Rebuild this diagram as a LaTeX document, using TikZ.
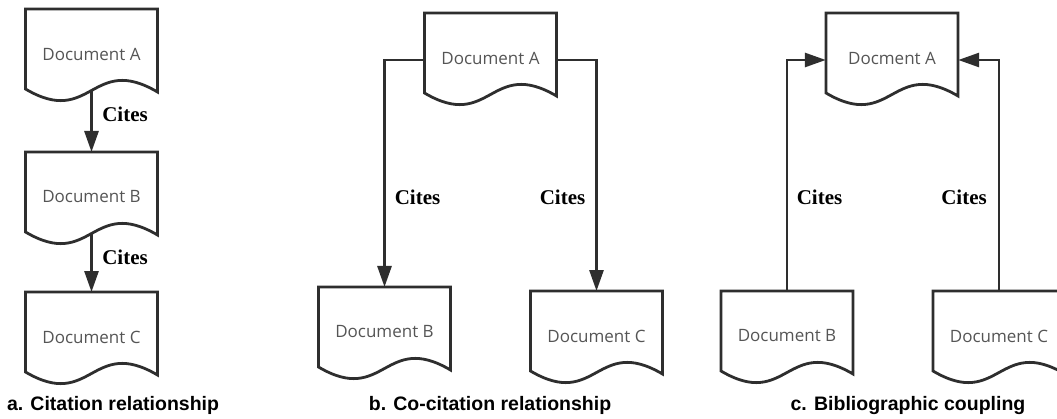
\documentclass[tikz,border=0pt]{standalone}
\usepackage{fontspec}
\usetikzlibrary{arrows.meta,calc}
\newfontfamily\docfont{Open Sans}
\newfontfamily\citefont{Liberation Serif}
\newfontfamily\capfont{Liberation Sans}
\definecolor{linegray}{HTML}{2E2E2E}
\definecolor{textgray}{HTML}{555555}
\tikzset{
  docbox/.style={minimum width=132pt, minimum height=90pt, inner sep=0pt, text=textgray,
    font=\docfont\fontsize{17}{20}\selectfont},
  docline/.style={draw=linegray, line width=2.8pt, line join=miter},
  conn/.style={draw=linegray, line width=2.8pt, -{Triangle[length=21pt,width=14pt]}},
  citelbl/.style={font=\citefont\bfseries\fontsize{21}{24}\selectfont, text=black, inner sep=0pt},
  caplbl/.style={font=\capfont\bfseries\fontsize{19.5}{22}\selectfont, text=black, inner sep=0pt}
}
\newcommand\DocShape[4]{%
  \node[docbox] (#1) at (#2, 418-#3-45) {#4};
  \draw[docline, shift={(#1.center)}] (-66,45) -- (66,45) -- (66,-38)
     .. controls (0,1) and (0,-74) .. (-66,-35) -- cycle;
  \coordinate (#1-n) at ($(#1.center)+(0,45)$);
  \coordinate (#1-s) at ($(#1.center)+(0,-36.5)$);
}
\begin{document}
\begin{tikzpicture}[x=1pt,y=1pt]
\useasboundingbox (0,0) rectangle (1057,418);
\clip (0,0) rectangle (1057,418);
% panel a
\DocShape{aA}{91.5}{9}{Document A}
\DocShape{aB}{91.5}{152}{Document B}
\DocShape{aC}{91.5}{292}{Document C}
\draw[conn] (aA-s) -- (aB-n);
\draw[conn] (aB-s) -- (aC-n);
\node[citelbl] (la1) at (125, 418-114) {Cites};
\node[citelbl] (la2) at (125, 418-257) {Cites};
\node[caplbl] (capa) at (113, 418-405) {a. Citation relationship};
% panel b
\DocShape{bA}{490.5}{13}{Document A}
\DocShape{bB}{384.5}{287}{Document B}
\DocShape{bC}{596.5}{291}{Document C}
\draw[conn] ($(bA.west)+(0,-2)$) -| (bB-n);
\draw[conn] ($(bA.east)+(0,-2)$) -| (bC-n);
\node[citelbl] (lb1) at (417.5, 418-197) {Cites};
\node[citelbl] (lb2) at (562.5, 418-197) {Cites};
\node[caplbl] (capb) at (490, 418-405) {b. Co-citation relationship};
% panel c
\DocShape{cA}{892}{13}{Docment A}
\DocShape{cB}{787}{291}{Document B}
\DocShape{cC}{999}{291}{Document C}
\draw[conn] (cB-n) |- ($(cA.west)+(0,-2)$);
\draw[conn] (cC-n) |- ($(cA.east)+(0,-2)$);
\node[citelbl] (lc1) at (819.5, 418-197) {Cites};
\node[citelbl] (lc2) at (964, 418-197) {Cites};
\node[caplbl] (capc) at (908, 418-405) {c. Bibliographic coupling};
\end{tikzpicture}
\end{document}
